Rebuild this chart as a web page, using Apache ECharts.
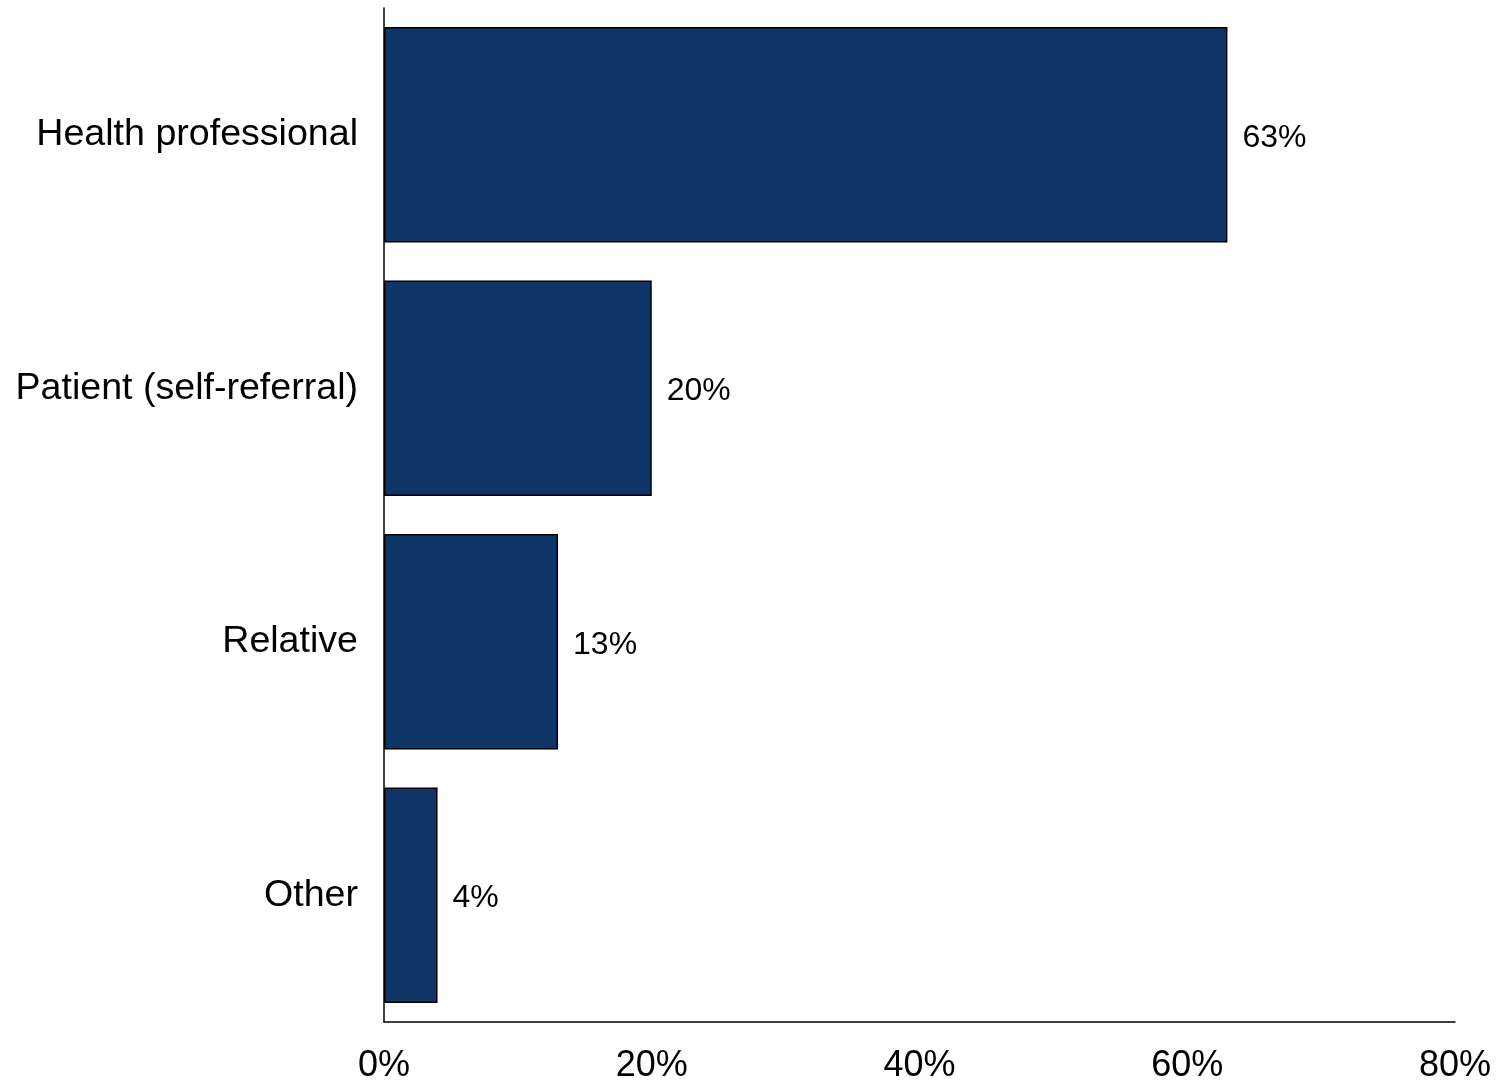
<!DOCTYPE html>
<html>
<head>
<meta charset="utf-8">
<script src="https://cdn.jsdelivr.net/npm/echarts@6/dist/echarts.min.js"></script>
<style>html,body{margin:0;padding:0;background:#fff}#c{width:1503px;height:1080px}</style>
</head>
<body>
<div id="c"></div>
<script>
const categories = ["Health professional", "Patient (self-referral)", "Relative", "Other"];
const values = [63, 20, 13, 4];
const xTicks = [0, 20, 40, 60, 80];

const chart = echarts.init(document.getElementById('c'), null, {renderer: 'canvas'});
chart.setOption({
  animation: false,
  backgroundColor: '#ffffff',
  grid: {left: 384, right: 48, top: 8, bottom: 58, containLabel: false, outerBoundsMode: 'none'},
  xAxis: {
    type: 'value', min: xTicks[0], max: xTicks[xTicks.length - 1], interval: 20,
    axisLine: {show: true, lineStyle: {color: '#000', width: 1.5}},
    axisTick: {show: false},
    splitLine: {show: false},
    axisLabel: {
      formatter: v => v + '%', color: '#000', fontSize: 36, margin: 26,
      fontFamily: 'Liberation Sans, Arial, sans-serif'
    }
  },
  yAxis: {
    type: 'category', data: categories, inverse: true,
    axisLine: {show: true, lineStyle: {color: '#000', width: 1.5}},
    axisTick: {show: false},
    axisLabel: {
      color: '#000', fontSize: 37.6, margin: 26,
      fontFamily: 'Liberation Sans, Arial, sans-serif'
    }
  },
  series: [{
    type: 'bar', data: values, barCategoryGap: '15%',
    itemStyle: {color: '#103567', borderColor: '#000', borderWidth: 1.5},
    label: {
      show: true, position: 'right', distance: 15, offset: [0, 3], formatter: p => p.value + '%',
      color: '#000', fontSize: 32,
      fontFamily: 'Liberation Sans, Arial, sans-serif'
    }
  }]
});
</script>
</body>
</html>
